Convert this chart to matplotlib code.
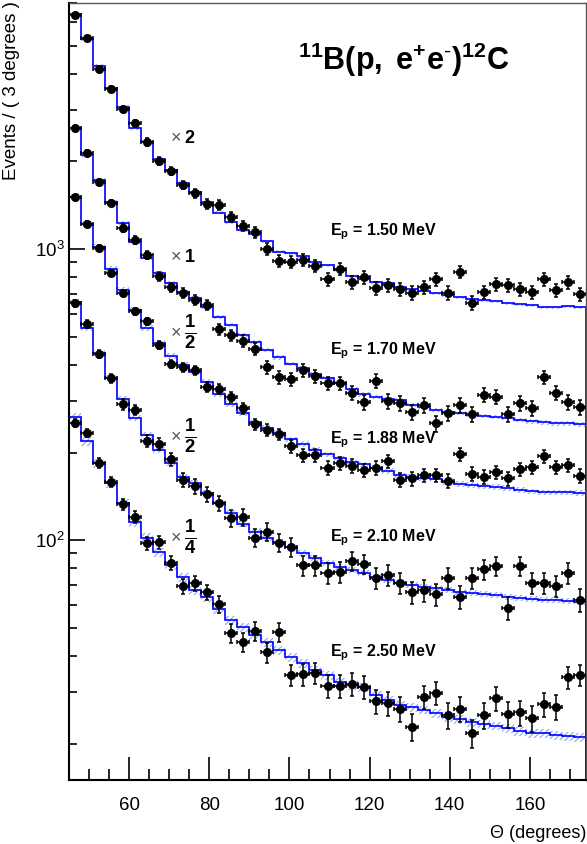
import numpy as np
import matplotlib
matplotlib.use('Agg')
import matplotlib.pyplot as plt
from matplotlib.ticker import MultipleLocator, LogLocator, NullFormatter

plt.rcParams['font.family'] = 'Liberation Sans'
plt.rcParams['mathtext.fontset'] = 'custom'
plt.rcParams['mathtext.rm'] = 'Liberation Sans'
plt.rcParams['mathtext.it'] = 'Liberation Sans:italic'
plt.rcParams['mathtext.bf'] = 'Liberation Sans:bold'
plt.rcParams['hatch.linewidth'] = 0.8

# bin edges, 3 degree bins
theta_edges = np.arange(45, 175, 3)
theta = theta_edges[:-1] + 1.5

# data points (already multiplied by the scale factor shown on the plot)
data_150 = [6368, 5309, 4152, 3548, 3027, 2710, 2333, 2005, 1854, 1660, 1556, 1429, 1416,
            1288, 1200, 1143, 1000, 909, 902, 916, 874, 789, 853, 770, 801, 734, 752, 728,
            706, 740, 789, 706, 833, 652, 711, 758, 752, 728, 711, 789, 723, 770, 700]
data_170 = [2604, 2138, 1699, 1439, 1181, 1074, 953, 807, 740, 706, 668, 642, 531,
            506, 483, 453, 393, 363, 357, 384, 366, 346, 346, 320, 298, 352, 300, 296,
            275, 291, 252, 273, 291, 271, 315, 310, 271, 296, 284, 363, 320, 298, 286]
data_188 = [1510, 1219, 1008, 827, 706, 612, 565, 468, 403, 393, 384, 336, 330,
            310, 284, 250, 239, 231, 210, 196, 196, 177, 184, 180, 174, 177, 187, 161,
            163, 167, 167, 160, 197, 169, 165, 171, 163, 175, 178, 194, 178, 181, 166]
data_210 = [652, 552, 436, 360, 293, 280, 219, 214, 190, 161, 153, 144, 134,
            119, 120, 102, 107, 97.7, 94.6, 82.0, 82.0, 77.0, 77.6, 84.7, 82.7, 74.0, 75.8, 71.1,
            66.3, 67.3, 65.2, 74.0, 63.7, 74.0, 79.5, 81.4, 58.4, 81.4, 71.1, 71.1, 69.5, 77.0, 62.2]
data_250 = [252, 233, 184, 158, 133, 120, 97.7, 98.4, 83.4, 69.5, 71.1, 66.3, 60.3,
            47.9, 44.6, 48.7, 41.2, 48.3, 34.4, 34.6, 34.9, 31.5, 31.5, 32.0, 31.3, 28.0, 27.5, 26.3,
            22.8, 28.9, 29.8, 25.0, 26.3, 21.7, 25.0, 28.6, 25.2, 25.6, 24.4, 27.3, 26.7, 33.8, 34.4]

# fitted model per bin
model_150 = [6415, 5265, 4253, 3573, 3075, 2604, 2333, 2037, 1868, 1686, 1570, 1449, 1330,
             1238, 1162, 1125, 1065, 977, 968, 946, 902, 881, 847, 807, 789, 770, 764, 740,
             728, 717, 706, 695, 684, 673, 668, 662, 652, 647, 642, 632, 632, 637, 632]
model_170 = [2604, 2103, 1726, 1449, 1228, 1057, 931, 827, 764, 711, 679, 632, 584,
             548, 506, 479, 450, 425, 403, 390, 372, 360, 346, 330, 317, 310, 305, 303,
             291, 286, 280, 275, 273, 269, 267, 265, 263, 259, 256, 254, 252, 252, 250]
model_188 = [1510, 1219, 1016, 853, 723, 617, 535, 475, 429, 399, 378, 349, 317,
             293, 273, 254, 243, 233, 222, 214, 204, 197, 191, 185, 182, 177, 173, 167,
             165, 163, 162, 158, 156, 155, 153, 152, 151, 149, 147, 146, 146, 146, 145]
model_210 = [657, 535, 439, 360, 305, 263, 229, 204, 184, 165, 157, 145, 134,
             124, 114, 107, 102, 98.4, 94.6, 90.2, 86.7, 83.4, 80.8, 78.9, 77.0, 74.6, 72.9, 71.1,
             70.0, 68.9, 68.4, 67.3, 66.3, 65.8, 65.2, 64.7, 63.7, 63.2, 62.7, 62.2, 62.2, 61.7, 61.2]
model_250 = [265, 219, 184, 157, 134, 115, 102, 90.9, 82.0, 74.6, 67.3, 63.7, 57.9,
             53.1, 50.2, 47.2, 44.6, 41.9, 39.6, 37.8, 35.8, 34.4, 32.5, 31.8, 31.3, 29.3, 28.2, 27.1,
             26.7, 26.1, 25.4, 24.6, 24.3, 23.7, 23.3, 23.0, 22.6, 22.1, 21.7, 21.7, 21.4, 21.2, 21.0]

series_data = [data_150, data_170, data_188, data_210, data_250]
series_model = [model_150, model_170, model_188, model_210, model_250]
scale = [2, 1, 0.5, 0.5, 0.25]
band_rel = [0.012, 0.018, 0.022, 0.025, 0.035]

energy_labels = ['1.50', '1.70', '1.88', '2.10', '2.50']
energy_label_y = [1143, 446, 221, 102, 41.2]
scale_labels = [r'$\mathbf{2}$', r'$\mathbf{1}$', r'$\frac{\mathbf{1}}{\mathbf{2}}$',
                r'$\frac{\mathbf{1}}{\mathbf{2}}$', r'$\frac{\mathbf{1}}{\mathbf{4}}$']
scale_label_size = [13, 13, 19, 19, 19]
scale_label_y = [2388, 938, 514, 226, 101.6]

fig = plt.figure(figsize=(5.87, 8.44), dpi=100)
ax = fig.add_axes([69 / 587, 64 / 844, 517 / 587, 777 / 844])
ax.set_yscale('log')
ax.set_xlim(45, 174)
ax.set_ylim(15, 7000)

for vals, model, s, brel in zip(series_data, series_model, scale, band_rel):
    vals = np.array(vals, dtype=float)
    model = np.array(model, dtype=float)
    lo = np.r_[model, model[-1]] * (1 - brel)
    hi = np.r_[model, model[-1]] * (1 + brel)
    ax.fill_between(theta_edges, lo, hi, step='post', facecolor='none',
                    edgecolor='#8aa6ff', hatch='//////', linewidth=0)
    ax.stairs(model, theta_edges, baseline=15, color='#0000ff', linewidth=1.2)
    # poisson errors of the unscaled counts
    err = np.sqrt(vals * s)
    ax.errorbar(theta, vals, xerr=1.5, yerr=err, fmt='o', color='black', ms=5.5,
                elinewidth=1.1, capsize=1.6, capthick=1.1)

for lab, y in zip(energy_labels, energy_label_y):
    ax.text(110.1, y, r'$\mathbf{E_{p}}$ = ' + lab + ' MeV', fontsize=11.5,
            fontweight='bold', ha='left', va='center')

for lab, fs, y in zip(scale_labels, scale_label_size, scale_label_y):
    ax.text(71.6, y, '\u00d7', fontsize=13, color='#555555', ha='center', va='center')
    ax.text(75.2, y, lab, fontsize=fs, ha='center', va='center')

fig.text(298 / 587, 1 - 70 / 844, r'$\mathbf{^{11}B(p,\ e^{+}e^{\text{-}})^{12}C}$',
         fontsize=22, ha='left', va='baseline')

fig.text(12 / 587, 1 - 1 / 844, 'Events / ( 3 degrees )', rotation=90,
         fontsize=13.5, ha='center', va='top')
ax.set_xlabel('\u0398 (degrees)', fontsize=13, ha='right', x=1.0, labelpad=8)

ax.xaxis.set_major_locator(MultipleLocator(20))
ax.xaxis.set_minor_locator(MultipleLocator(5))
ax.yaxis.set_major_locator(LogLocator(base=10))
ax.yaxis.set_minor_locator(LogLocator(base=10, subs=np.arange(2, 10)))
ax.yaxis.set_minor_formatter(NullFormatter())

ax.tick_params(axis='x', which='major', direction='in', length=16.5, width=1.2,
               labelsize=13.5, pad=12, top=False)
ax.tick_params(axis='x', which='minor', direction='in', length=8, width=1.2, top=False)
ax.tick_params(axis='y', which='major', direction='in', length=11.5, width=1.2,
               labelsize=13.5, pad=3, right=False)
ax.tick_params(axis='y', which='minor', direction='in', length=5.8, width=1.2, right=False)

for side in ['left', 'bottom']:
    ax.spines[side].set_linewidth(1.5)
for side in ['top', 'right']:
    ax.spines[side].set_linewidth(1.0)
    ax.spines[side].set_color('#555555')

fig.savefig('out.png', dpi=100)
